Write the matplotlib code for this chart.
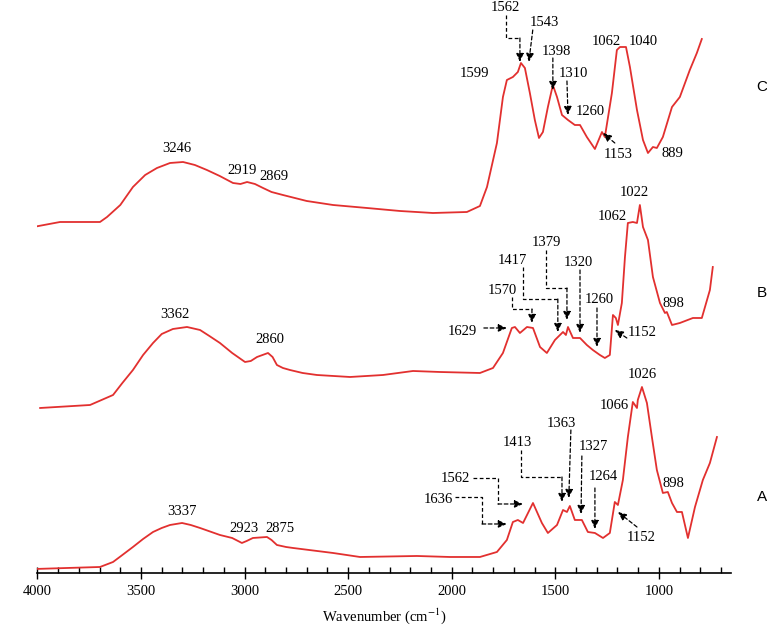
import numpy as np
import matplotlib
matplotlib.use('Agg')
import matplotlib.pyplot as plt

plt.rcParams['font.family'] = 'Liberation Serif'
plt.rcParams['mathtext.fontset'] = 'stix'

# FTIR traces (wavenumber, cm-1) and stacked intensity (a.u.)
wn_C = [4020, 3891, 3698, 3664, 3600, 3539, 3480, 3423, 3360, 3297, 3240, 3182, 3120, 3056,
        3020, 2988, 2950, 2911, 2870, 2815, 2700, 2573, 2409,
        2250, 2091, 1927, 1864, 1830, 1782, 1753, 1734, 1705, 1681, 1666, 1647, 1623, 1599,
        1579, 1560, 1536, 1512, 1492, 1468, 1439, 1406, 1381, 1348, 1309, 1275, 1261, 1227,
        1203, 1188, 1159, 1140, 1106, 1077, 1053, 1029, 1010, 981, 937, 899, 851, 817, 793]
int_C = [346, 351, 351, 356, 368, 386, 398, 405, 410, 411, 408, 403, 397, 390,
         389, 391, 389, 385, 381, 378, 372, 368, 365,
         362, 360, 361, 367, 386, 430, 476, 493, 496, 501, 510, 505, 480, 453,
         435, 441, 466, 488, 476, 458, 453, 448, 448, 436, 424, 441, 436, 480,
         523, 526, 526, 506, 463, 433, 420, 426, 425, 436, 466, 476, 503, 520, 534]

wn_B = [3987, 3746, 3635, 3590, 3539, 3490, 3442, 3400, 3346, 3278, 3215, 3170, 3119, 3060,
        2998, 2970, 2940, 2887, 2865, 2844, 2815, 2781, 2720,
        2651, 2491, 2332, 2187, 2057, 1864, 1801, 1753, 1710, 1695, 1671, 1637, 1608, 1574,
        1541, 1502, 1463, 1449, 1439, 1415, 1381, 1348, 1319, 1285, 1261, 1237, 1222, 1208,
        1198, 1179, 1164, 1150, 1126, 1106, 1092, 1077, 1053, 1029, 995, 971, 962, 937, 899,
        836, 793, 754, 740]
int_B = [165, 168, 178, 190, 203, 218, 230, 239, 244, 246, 243, 237, 230, 220,
         211, 212, 216, 220, 216, 208, 205, 203, 200,
         198, 196, 198, 202, 201, 200, 205, 220, 245, 246, 240, 246, 245, 226,
         220, 233, 241, 238, 246, 235, 235, 228, 223, 218, 215, 218, 258, 255,
         248, 270, 316, 350, 351, 350, 368, 346, 333, 296, 270, 260, 261, 248, 250,
         255, 255, 283, 306]

wn_A = [4012, 3857, 3698, 3635, 3590, 3539, 3490, 3442, 3400, 3360, 3302, 3260, 3215, 3119,
        3060, 3013, 2990, 2960, 2892, 2870, 2844, 2800,
        2766, 2573, 2443, 2168, 2009, 1864, 1782, 1734, 1705, 1681, 1656, 1608, 1565, 1536,
        1492, 1463, 1444, 1430, 1406, 1372, 1343, 1309, 1270, 1237, 1213, 1198, 1174, 1150,
        1126, 1106, 1102, 1082, 1058, 1034, 1010, 981, 957, 937, 913, 889, 860, 826, 788,
        754, 720]
int_A = [4, 5, 6, 11, 18, 26, 34, 41, 45, 48, 50, 48, 45, 38,
         35, 30, 32, 35, 36, 33, 28, 26,
         25, 20, 16, 17, 16, 16, 21, 33, 51, 53, 50, 70, 50, 40,
         48, 63, 61, 67, 53, 53, 41, 40, 35, 40, 71, 68, 93, 136,
         171, 165, 173, 186, 170, 136, 103, 80, 81, 70, 61, 61, 35, 66, 93,
         110, 136]

series_names = ['C', 'B', 'A']

fig = plt.figure(figsize=(7.67, 6.3), dpi=100)
ax = fig.add_axes([0.0488, 0.0905, 0.9043, 0.9095])

red = '#e2302f'
for wn, val in [(wn_C, int_C), (wn_B, int_B), (wn_A, int_A)]:
    ax.plot(wn, val, color=red, lw=1.3)

ax.set_xlim(4000, 652)
ax.set_ylim(0, 573)
ax.set_xticks([4000, 3500, 3000, 2500, 2000, 1500, 1000])
ax.set_xticks(np.arange(700, 4000, 100), minor=True)
ax.tick_params(axis='x', which='major', direction='inout', length=9, width=1, labelsize=10.5, pad=4)
ax.tick_params(axis='x', which='minor', direction='in', length=4, width=1)
ax.set_yticks([])
for s in ['left', 'right', 'top']:
    ax.spines[s].set_visible(False)
ax.spines['bottom'].set_linewidth(1.2)
ax.set_xlabel('Wavenumber (cm$^{-1}$)', fontsize=10.5, labelpad=6)

fs = 10.5
# plain peak labels
labels = [
    ('3246', 3326, 424), ('2919', 3013, 402), ('2869', 2858, 396), ('1599', 1888, 499),
    ('1260', 1333, 461), ('1062', 1256, 531), ('1040', 1077, 531), ('889', 937, 419),
    ('3362', 3336, 258), ('2860', 2877, 233), ('1022', 1121, 380), ('1062', 1227, 356),
    ('898', 928, 269),
    ('3337', 3302, 61), ('2923', 3003, 44), ('2875', 2829, 44), ('1026', 1082, 198),
    ('1066', 1217, 167), ('898', 928, 89),
]
for t, x, y in labels:
    ax.text(x, y, t, ha='center', va='center', fontsize=fs)

# labels with dashed leader + arrow: (text, text pos, path points; last segment gets arrowhead)
leaders = [
    ('1562', (1739, 565), [(1739, 558), (1739, 535), (1671, 535), (1671, 511)]),
    ('1543', (1555, 550), [(1609, 543), (1628, 511)]),
    ('1398', (1497, 521), [(1512, 515), (1512, 483)]),
    ('1310', (1415, 499), [(1444, 492), (1439, 458)]),
    ('1153', (1198, 418), [(1213, 430), (1270, 440)]),
    ('1379', (1545, 330), [(1545, 323), (1545, 285), (1444, 285), (1444, 253)]),
    ('1417', (1710, 312), [(1656, 306), (1656, 274), (1488, 274), (1488, 241)]),
    ('1320', (1391, 310), [(1381, 303), (1381, 240)]),
    ('1570', (1758, 282), [(1710, 276), (1710, 264), (1613, 264), (1613, 250)]),
    ('1260', (1290, 273), [(1299, 265), (1299, 226)]),
    ('1629', (1951, 241), [(1845, 245), (1734, 245)]),
    ('1152', (1082, 240), [(1155, 235), (1213, 243)]),
    ('1363', (1473, 149), [(1425, 143), (1435, 75)]),
    ('1413', (1685, 130), [(1666, 123), (1666, 96), (1468, 96), (1468, 71)]),
    ('1327', (1319, 126), [(1372, 117), (1376, 59)]),
    ('1264', (1270, 96), [(1309, 85), (1309, 44)]),
    ('1562', (1985, 94), [(1898, 95), (1777, 95), (1777, 69), (1656, 69)]),
    ('1636', (2067, 73), [(1985, 76), (1854, 76), (1854, 49), (1734, 49)]),
    ('1152', (1087, 35), [(1106, 46), (1198, 61)]),
]
for t, (tx, ty), pts in leaders:
    ax.text(tx, ty, t, ha='center', va='center', fontsize=fs)
    xs = [p[0] for p in pts[:-1]]
    ys = [p[1] for p in pts[:-1]]
    if len(pts) > 2:
        ax.plot(xs, ys, color='k', lw=0.9, ls=(0, (3, 2)))
    ax.annotate('', xy=pts[-1], xytext=pts[-2],
                arrowprops=dict(arrowstyle='-|>,head_length=0.5,head_width=0.22',
                                color='k', lw=0.9, ls=(0, (3, 2)),
                                shrinkA=0, shrinkB=0))

for name, y in zip(series_names, [486, 280, 76]):
    ax.text(503, y, name, ha='center', va='center', fontsize=11,
            family='Liberation Sans', clip_on=False)

plt.savefig('out.png', dpi=100)
